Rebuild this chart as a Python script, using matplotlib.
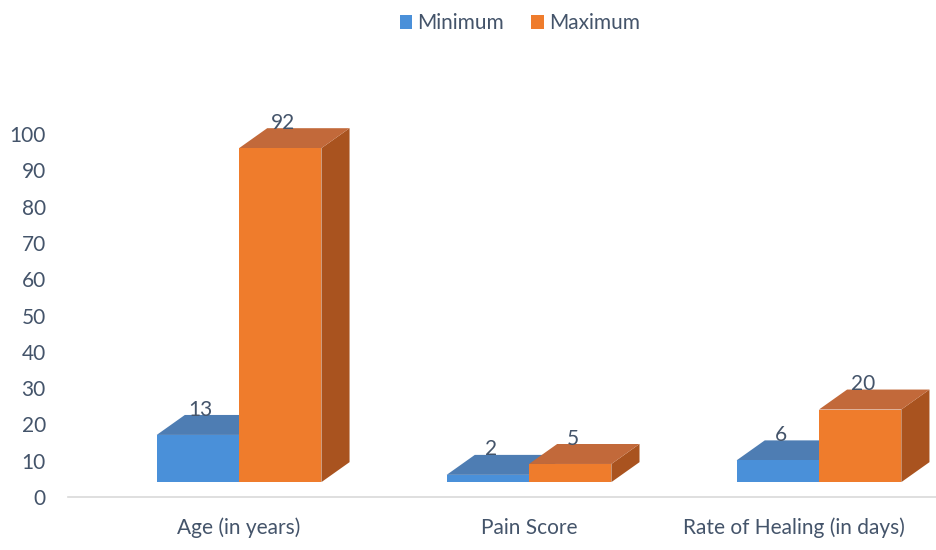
import matplotlib.pyplot as plt
from matplotlib.patches import Polygon, Rectangle
from matplotlib.transforms import ScaledTranslation

# data
categories = ['Age (in years)', 'Pain Score', 'Rate of Healing (in days)']
minimum = [13, 2, 6]
maximum = [92, 5, 20]

plt.rcParams['font.family'] = ['Lato', 'DejaVu Sans']
txt = '#44546A'
fs = 15

fig = plt.figure(figsize=(9.37, 5.5), dpi=100)
ax = fig.add_axes([68 / 937, 53 / 550, 869 / 937, 110 * 3.63 / 550])
ax.set_xlim(-0.59, 2.407)
ax.set_ylim(0, 110)

w = 0.284      # bar width
base = 4.1     # floor height of the 3d bars
dx, dy = 0.097, 5.5  # depth offset

# front, top, side colours for each series
styles = [
    (minimum, -w, ('#4A90D9', '#4E7DB3', '#3B6A9E'), 'Minimum'),
    (maximum, 0, ('#EF7C2C', '#C2693A', '#A9531F'), 'Maximum'),
]

for vals, off, (cf, ct, cs), name in styles:
    for i, v in enumerate(vals):
        x0 = i + off
        x1 = x0 + w
        top = base + v
        ax.add_patch(Polygon([(x1, base), (x1 + dx, base + dy), (x1 + dx, top + dy), (x1, top)],
                             closed=True, fc=cs, ec='none', zorder=2 + i))
        ax.add_patch(Polygon([(x0, top), (x0 + dx, top + dy), (x1 + dx, top + dy), (x1, top)],
                             closed=True, fc=ct, ec='none', zorder=2 + i))
        ax.add_patch(Rectangle((x0, base), w, v, fc=cf, ec='none', zorder=3 + i))
        ax.text(x0 + w / 2 + 0.01, top + dy + 1.5, str(v), ha='center', va='center',
                fontsize=fs, color=txt, zorder=10)

# legend
ax.bar([0], [0], color='#4A90D9', label='Minimum')
ax.bar([0], [0], color='#EF7C2C', label='Maximum')
fig.legend(loc='upper center', bbox_to_anchor=(0.555, 1.01), ncol=2, frameon=False,
           fontsize=fs, handlelength=0.6, handleheight=0.6, handletextpad=0.25,
           columnspacing=1.3, labelcolor=txt)

ax.set_yticks(range(0, 101, 10))
ax.set_xticks(range(3))
ax.set_xticklabels(categories)
ax.tick_params(axis='y', length=0, pad=16, labelsize=fs, labelcolor=txt)
ax.tick_params(axis='x', length=0, pad=15, labelsize=fs, labelcolor=txt)
lbls = ax.get_xticklabels()
lbls[2].set_transform(lbls[2].get_transform() + ScaledTranslation(-25 / 100, 0, fig.dpi_scale_trans))

for s in ['top', 'right', 'left']:
    ax.spines[s].set_visible(False)
ax.spines['bottom'].set_color('#D9D9D9')
ax.spines['bottom'].set_linewidth(1.2)

plt.savefig('out.png')
